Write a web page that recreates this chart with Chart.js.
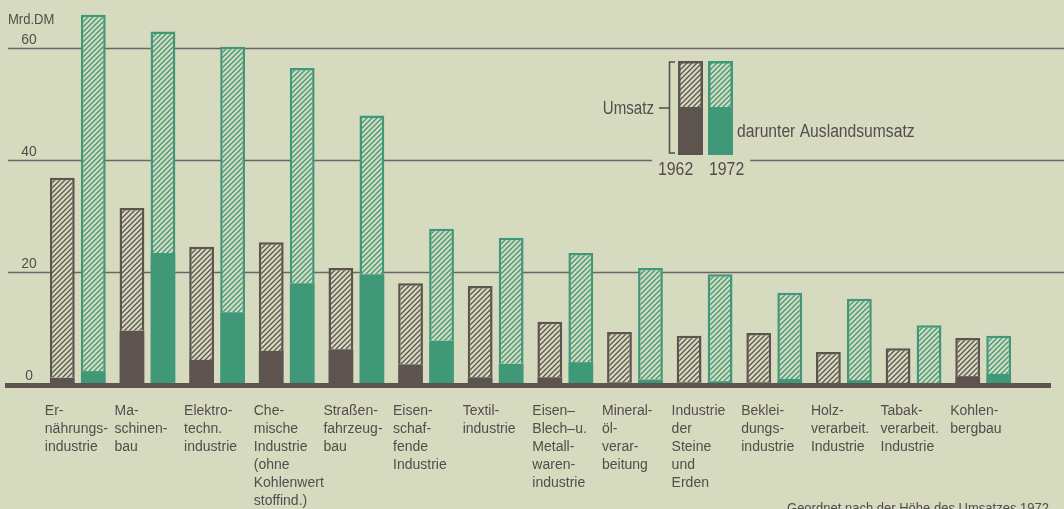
<!DOCTYPE html>
<html lang="de">
<head>
<meta charset="utf-8">
<title>Umsatz und Auslandsumsatz der Industriezweige 1962 und 1972</title>
<script src="https://cdn.jsdelivr.net/npm/chart.js@4.4.0/dist/chart.umd.min.js"></script>
<style>
  html, body { margin: 0; padding: 0; background: #d6dabf; overflow: hidden; }
  #wrap { position: relative; width: 1064px; height: 509px; overflow: hidden; }
</style>
</head>
<body>
<!-- the original print is cropped at the bottom edge, so the canvas runs a little past the window -->
<div id="wrap"><canvas id="umsatzChart" width="1064" height="530"></canvas></div>
<script>
// Industriezweige, geordnet nach der Hoehe des Umsatzes 1972
const industries = [
    ['Er-', 'nährungs-', 'industrie'],
    ['Ma-', 'schinen-', 'bau'],
    ['Elektro-', 'techn.', 'industrie'],
    ['Che-', 'mische', 'Industrie', '(ohne', 'Kohlenwert', 'stoffind.)'],
    ['Straßen-', 'fahrzeug-', 'bau'],
    ['Eisen-', 'schaf-', 'fende', 'Industrie'],
    ['Textil-', 'industrie'],
    ['Eisen–', 'Blech–u.', 'Metall-', 'waren-', 'industrie'],
    ['Mineral-', 'öl-', 'verar-', 'beitung'],
    ['Industrie', 'der', 'Steine', 'und', 'Erden'],
    ['Beklei-', 'dungs-', 'industrie'],
    ['Holz-', 'verarbeit.', 'Industrie'],
    ['Tabak-', 'verarbeit.', 'Industrie'],
    ['Kohlen-', 'bergbau']
];

// Umsatz und darunter Auslandsumsatz, Mrd. DM
const umsatz1962  = [36.8, 31.4, 24.5, 25.3, 20.7, 18.0, 17.5, 11.1, 9.3, 8.6, 9.1, 5.7, 6.4, 8.2];
const ausland1962 = [1.1, 9.5, 4.3, 5.9, 6.2, 3.5, 1.2, 1.2, 0.3, 0.3, 0.3, 0.2, 0.2, 1.4];
const umsatz1972  = [65.9, 62.9, 60.2, 56.4, 47.9, 27.7, 26.1, 23.4, 20.7, 19.6, 16.3, 15.2, 10.5, 8.6];
const ausland1972 = [2.3, 23.4, 12.8, 18.0, 19.6, 7.7, 3.6, 3.9, 0.8, 0.5, 0.9, 0.7, 0.2, 1.8];

const yTicks = [0, 20, 40, 60];

// Colours
const paper = '#d6dabf';
const brown = '#5d5450';
const green = '#3f9878';
const ink = '#554c4b';
const gridColor = '#6e6468';
const font = '"Liberation Sans", Arimo, Arial, sans-serif';

// Hatch pattern (////) on paper
function makeHatch(color) {
    const size = 5;
    const c = document.createElement('canvas');
    c.width = size;
    c.height = size;
    const g = c.getContext('2d');
    g.fillStyle = paper;
    g.fillRect(0, 0, size, size);
    g.strokeStyle = color;
    g.lineWidth = 1.3;
    g.beginPath();
    g.moveTo(-1, 1); g.lineTo(1, -1);
    g.moveTo(0, size); g.lineTo(size, 0);
    g.moveTo(size - 1, size + 1); g.lineTo(size + 1, size - 1);
    g.stroke();
    return g.createPattern(c, 'repeat');
}

const hatchBrown = makeHatch(brown);
const hatchGreen = makeHatch(green);

// hatched part = Umsatz minus Auslandsumsatz
const rest1962 = umsatz1962.map((v, i) => +(v - ausland1962[i]).toFixed(2));
const rest1972 = umsatz1972.map((v, i) => +(v - ausland1972[i]).toFixed(2));

const outline = { top: 2.5, left: 2.5, right: 2.5, bottom: 0 };

// text squeezed a little sideways, the print uses a narrow grotesque
function narrowText(c, text, x, y, size, sx, align) {
    c.save();
    c.translate(x, y);
    c.scale(sx, 1);
    c.font = size + 'px ' + font;
    c.textAlign = align || 'left';
    c.textBaseline = 'alphabetic';
    c.fillText(text, 0, 0);
    c.restore();
}

// Background, grid, axis labels, legend and footnote
const paperPlugin = {
    id: 'paper',
    beforeDraw(chart) {
        const c = chart.ctx;
        c.save();
        c.fillStyle = paper;
        c.fillRect(0, 0, chart.width, chart.height);
        c.restore();
    },
    beforeDatasetsDraw(chart) {
        const c = chart.ctx;
        const y = chart.scales.y;
        c.save();
        c.strokeStyle = gridColor;
        c.lineWidth = 1.4;
        yTicks.forEach(t => {
            if (t === 0) return;
            const py = Math.round(y.getPixelForValue(t)) + 0.5;
            c.beginPath();
            c.moveTo(8, py);
            c.lineTo(1064, py);
            c.stroke();
        });
        c.fillStyle = ink;
        yTicks.forEach(t => {
            narrowText(c, String(t), 29, y.getPixelForValue(t) - 4, 15, 0.92, 'center');
        });
        narrowText(c, 'Mrd.DM', 8, 24, 14.5, 0.9);
        c.restore();
    },
    afterDatasetsDraw(chart) {
        const c = chart.ctx;
        const y0 = chart.scales.y.getPixelForValue(0);
        c.save();
        // thick baseline
        c.fillStyle = brown;
        c.fillRect(5, y0 - 1, 1046, 5);

        // legend
        const top = 61, mid = 107, bot = 155;
        [[678, brown, hatchBrown], [708, green, hatchGreen]].forEach(([x, col, pat]) => {
            c.fillStyle = pat;
            c.fillRect(x, top, 25, mid - top);
            c.fillStyle = col;
            c.fillRect(x, mid, 25, bot - mid);
            c.strokeStyle = col;
            c.lineWidth = 2.5;
            c.strokeRect(x + 1.25, top + 1.25, 22.5, mid - top);
        });
        c.strokeStyle = ink;
        c.lineWidth = 1.5;
        c.beginPath();
        c.moveTo(675, 62); c.lineTo(669.5, 62); c.lineTo(669.5, 153); c.lineTo(675, 153);
        c.moveTo(659, 108); c.lineTo(669.5, 108);
        c.stroke();

        c.fillStyle = paper;
        c.fillRect(652, 156, 98, 22);
        c.fillStyle = ink;
        narrowText(c, 'Umsatz', 654, 113.5, 18, 0.84, 'right');
        narrowText(c, 'darunter Auslandsumsatz', 737, 137, 18, 0.87);
        narrowText(c, '1962', 658, 175, 18, 0.88);
        narrowText(c, '1972', 709, 175, 18, 0.88);

        narrowText(c, 'Geordnet nach der Höhe des Umsatzes 1972', 787, 513, 14, 0.93);
        c.restore();
    }
};

const ctx = document.getElementById('umsatzChart').getContext('2d');

new Chart(ctx, {
    type: 'bar',
    data: {
        labels: industries,
        datasets: [
            {
                label: 'Auslandsumsatz 1962',
                data: ausland1962,
                stack: '1962',
                backgroundColor: brown,
                borderWidth: 0
            },
            {
                label: 'Umsatz 1962',
                data: rest1962,
                stack: '1962',
                backgroundColor: hatchBrown,
                borderColor: brown,
                borderWidth: outline
            },
            {
                label: 'Auslandsumsatz 1972',
                data: ausland1972,
                stack: '1972',
                backgroundColor: green,
                borderWidth: 0
            },
            {
                label: 'Umsatz 1972',
                data: rest1972,
                stack: '1972',
                backgroundColor: hatchGreen,
                borderColor: green,
                borderWidth: outline
            }
        ]
    },
    options: {
        responsive: false,
        animation: false,
        layout: {
            padding: { left: 43, right: 46, top: 3, bottom: 1 }
        },
        datasets: {
            bar: { categoryPercentage: 0.89, barPercentage: 0.8 }
        },
        plugins: {
            legend: { display: false },
            tooltip: { enabled: false }
        },
        scales: {
            x: {
                stacked: true,
                grid: { display: false, drawTicks: false },
                border: { display: false },
                ticks: {
                    autoSkip: false,
                    maxRotation: 0,
                    align: 'start',
                    labelOffset: -33,
                    padding: 18.5,
                    color: ink,
                    font: { family: font, size: 14, lineHeight: '18px' }
                }
            },
            y: {
                stacked: true,
                display: false,
                min: 0,
                max: 68
            }
        }
    },
    plugins: [paperPlugin]
});
</script>
</body>
</html>
